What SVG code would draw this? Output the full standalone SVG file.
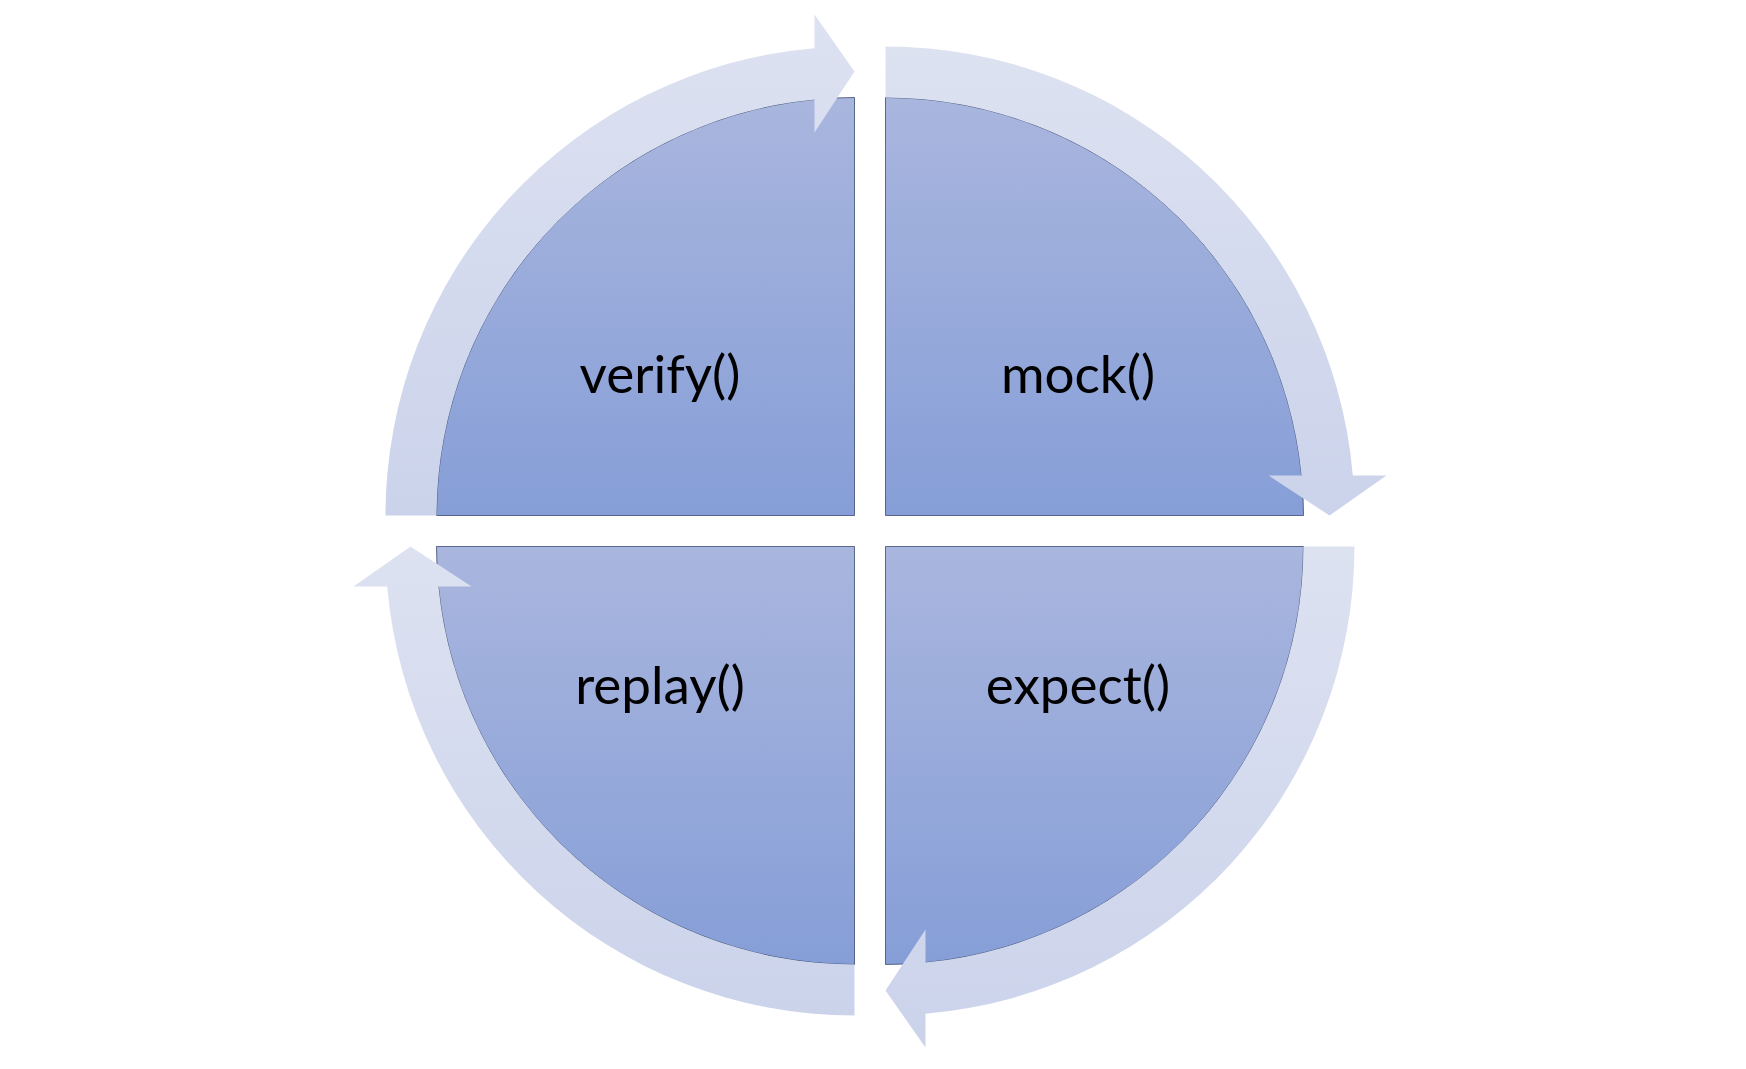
<svg xmlns="http://www.w3.org/2000/svg" width="1746" height="1069" viewBox="0 0 1746 1069">
<defs>
<linearGradient id="pie" x1="0" y1="0" x2="0" y2="1"><stop offset="0" stop-color="#a9b6de"/><stop offset="1" stop-color="#869ed7"/></linearGradient>
<linearGradient id="ring" x1="0" y1="0" x2="0" y2="1"><stop offset="0" stop-color="#dde2f1"/><stop offset="1" stop-color="#cbd3eb"/></linearGradient>
<style>
.pie{fill:url(#pie);stroke:#3a4a70;stroke-width:0.8}
.ring{fill:url(#ring)}
.lbl{font-family:Lato,"Open Sans",sans-serif;font-size:53px;fill:#000;text-anchor:middle}
</style>
</defs>
<rect width="1746" height="1069" fill="#fff"/>
<g id="mock"><path class="pie" d="M885.5,515.5 L885.5,97.5 A418,418 0 0 1 1303.5,515.5 Z"/><text class="lbl" x="1078" y="393">mock()</text></g>
<g id="expect"><path class="pie" d="M885.5,546.5 L1303.5,546.5 A418,418 0 0 1 885.5,964.5 Z"/><text class="lbl" x="1078" y="704">expect()</text></g>
<g id="replay"><path class="pie" d="M854.5,546.5 L854.5,964.5 A418,418 0 0 1 436.5,546.5 Z"/><text class="lbl" x="660" y="704">replay()</text></g>
<g id="verify"><path class="pie" d="M854.5,515.5 L436.5,515.5 A418,418 0 0 1 854.5,97.5 Z"/><text class="lbl" x="660" y="393">verify()</text></g>
<g id="connectors">
<path class="ring" d="M885.5,46.5 A469,469 0 0 1 1352.8,475.5 L1386.5,475.5 L1329.5,515.5 L1268.5,475.5 L1301.6,475.5 A418,418 0 0 0 885.5,97.5 Z"/>
<path class="ring" d="M1354.5,546.5 A469,469 0 0 1 925.5,1013.8 L925.5,1047.5 L885.5,990.5 L925.5,929.5 L925.5,962.6 A418,418 0 0 0 1303.5,546.5 Z"/>
<path class="ring" d="M854.5,1015.5 A469,469 0 0 1 387.2,586.5 L353.5,586.5 L410.5,546.5 L471.5,586.5 L438.4,586.5 A418,418 0 0 0 854.5,964.5 Z"/>
<path class="ring" d="M385.5,515.5 A469,469 0 0 1 814.5,48.2 L814.5,14.5 L854.5,71.5 L814.5,132.5 L814.5,99.4 A418,418 0 0 0 436.5,515.5 Z"/>
</g>
</svg>
